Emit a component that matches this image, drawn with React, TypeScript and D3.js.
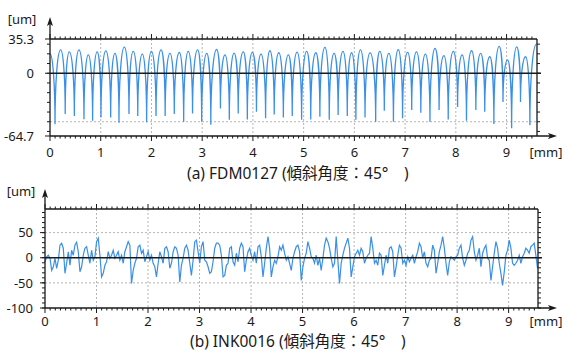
import React from "react";
import * as d3 from "d3";

// x axis (mm)
const xTickLabels = ["0", "1", "2", "3", "4", "5", "6", "7", "8", "9"];

// (a) FDM0127 – turning points of the profile (alternating peak / valley)
const fdmTurnX = [
  0, 0.099, 0.21, 0.3, 0.38, 0.48, 0.57, 0.67, 0.755, 0.84, 0.93, 1.005, 1.1, 1.196, 1.28, 1.36,
  1.465, 1.557, 1.64, 1.73, 1.82, 1.905, 2.0, 2.09, 2.19, 2.27, 2.365, 2.45, 2.55, 2.635, 2.725,
  2.81, 2.91, 2.99, 3.09, 3.17, 3.285, 3.36, 3.45, 3.535, 3.63, 3.71, 3.81, 3.89, 3.99, 4.07, 4.16,
  4.25, 4.335, 4.42, 4.51, 4.6, 4.7, 4.775, 4.87, 4.96, 5.06, 5.14, 5.24, 5.32, 5.42, 5.505, 5.6,
  5.68, 5.775, 5.86, 5.945, 6.03, 6.12, 6.21, 6.31, 6.42, 6.5, 6.59, 6.68, 6.77, 6.865, 6.95, 7.05,
  7.13, 7.225, 7.31, 7.4, 7.49, 7.59, 7.67, 7.765, 7.85, 7.95, 8.035, 8.125, 8.21, 8.31, 8.395,
  8.49, 8.57, 8.67, 8.75, 8.855, 8.93, 9.02, 9.1, 9.2, 9.275, 9.375, 9.46, 9.59,
];
const fdmTurnY = [
  20, -52.7, 24, -42, 22, -44, 24, -47.5, 19, -49, 22, -45.5, 23, -45.5, 20.4, -51, 27, -42, 22.5,
  -44, 19.8, -50.6, 22.5, -44, 24, -44, 20.4, -42, 21.4, -50, 22.5, -41.4, 24, -50, 20.4, -53, 24.5,
  -36.3, 19, -48, 20.8, -41.4, 22.1, -47.6, 21.5, -39.7, 19.8, -46.5, 23.2, -42.5, 21.1, -45.5, 19,
  -44, 21.8, -48, 22.5, -47.6, 21.1, -44.9, 26.6, -48, 20.4, -43.1, 22.5, -44, 21.1, -48, 24, -45.5,
  21, -50, 22.5, -38.7, 20.4, -50, 24.2, -46.5, 21.5, -38, 22.1, -40.7, 19.8, -50, 25.5, -38, 18.1,
  -47.6, 22.5, -34.7, 19, -48.9, 23.2, -38, 20.4, -39.7, 17, -52.4, 27.7, -29.6, 13.7, -56.7, 27.2,
  -29.6, 17, -53.5, 30,
];
const fdmYTicks = [35.3, 0, -64.7];
const fdmGridY = [-50];

// (b) INK0016 – profile sampled every inkStep mm
const inkStep = 0.0323;
const inkValues = [
  -8, 2, 5, -1, -25, -18, -1, -21, -5, 25, 29, 19, -31, -11, 12, -15, 15, 5, 25, 31, 12, -28, -18, 5,
  19, 22, 5, -11, 15, -5, 2, 32, 39, 5, -38, -31, -15, -8, 12, -1, 5, 15, -1, 5, 12, -5, 5, -11, 12,
  22, 32, 25, -51, -25, -11, -1, 22, 25, 9, 15, -8, 2, 12, -5, 5, -11, -18, -38, -11, 12, 2, -11, 19,
  22, 12, -21, -11, 12, 22, 19, 5, -48, -15, -1, 19, 25, 15, -11, -35, -5, 32, 35, 12, -11, 22, 32,
  -5, -8, -18, -31,
  -28, -8, 19, 29, 29, 25, 5, -38, -35, -15, -11, 19, 22, -8, -15, 9, -8, 19, 29, 22, -28, -5, 12,
  19, 5, -5, 12, -11, 22, 25, 2, -38, -11, 19, 42, 19, -38, -18, -5, -11, 2, 22, 15, 25, 9, -5, 2,
  -11, -25, -1, 12, 22, 25, 12, -45, -18, -1, 9, 32, 19, 2, -1, -11, 5, -15, -1, -25, -1, 25, 39,
  32, 19, -1, -18, -11, 42, -5, -51, -11, 5, 19, 29, 39, 19, -38, -18, 2, 9, 15, 5, 19, 12, -11, -1,
  5, 9,
  42, 19, -11, -5, -15, 9, 5, -35, -15, 5, -11, 19, 22, 12, -38, -18, 5, 25, 19, -11, -5, -15, 2,
  -8, -1, 5, -11, 2, 12, 29, 22, -1, 12, -11, -18, -5, -1, 25, 15, -31, -11, 12, 25, 42, 19, -11,
  -35, -8, 2, -1, -5, 2, 5, 19, 25, -1, -15, -5, 9, 15, 35, 42, 12, -5, 5, 19, -18, 9, 19, 25, -1,
  -5, -45, -18, 9, 32, 19, -11, -31, -55, -28, 5, 15, 35, 19, -11, -15, -11, -5, 5, -11, 2, 9, 19,
  15, 9, 22, 25, 29, 5, -21,
];
const inkYTicks = [50, 0, -50, -100];
const inkGridY = [50, -50];

const FONT = "'Noto Sans', 'Noto Sans CJK JP', sans-serif";
const TRACE = "#3a8fe8";
const INK = "#1a1a1a";
const K = 0.5523;

type PanelProps = {
  x: d3.ScaleLinear<number, number>;
  y: d3.ScaleLinear<number, number>;
  xMax: number;
  yTicks: number[];
  gridY: number[];
  arrowTop: number;
  labelRight: number;
  xLabelY: number;
  children?: React.ReactNode;
};

function Panel({ x, y, xMax, yTicks, gridY, arrowTop, labelRight, xLabelY, children }: PanelProps) {
  const [xl, xr] = x.range();
  const [yb, yt] = y.range();
  const [dMin, dMax] = y.domain();
  const minorX = d3.range(0, xMax + 1e-6, 0.1);
  const minorY = d3.range(Math.ceil(dMin / 10) * 10, dMax + 1e-6, 10);
  const arrowEnd = 557;
  return (
    <g>
      {xTickLabels.slice(1).map((t) => (
        <line key={"gx" + t} x1={x(+t)} x2={x(+t)} y1={yt} y2={yb} stroke="#b5b5b5" strokeDasharray="2,2" />
      ))}
      {gridY.map((v) => (
        <line key={"gy" + v} x1={xl} x2={xr} y1={y(v)} y2={y(v)} stroke="#b5b5b5" strokeDasharray="2,2" />
      ))}
      {children}
      <line x1={xl} x2={xr + 4} y1={y(0)} y2={y(0)} stroke={INK} strokeWidth={1.3} />
      {/* frame */}
      <line x1={xl} x2={xr} y1={yt} y2={yt} stroke={INK} strokeWidth={1.3} />
      <line x1={xl} x2={arrowEnd - 4} y1={yb} y2={yb} stroke={INK} strokeWidth={1.3} />
      <line x1={xl} x2={xl} y1={yb} y2={arrowTop + 4} stroke={INK} strokeWidth={1.3} />
      <line x1={xr} x2={xr} y1={yt} y2={yb} stroke={INK} strokeWidth={1.3} />
      <path d={`M${xl},${arrowTop}L${xl - 3},${arrowTop + 9}L${xl},${arrowTop + 7}L${xl + 3},${arrowTop + 9}Z`} fill={INK} />
      <path d={`M${arrowEnd},${yb}L${arrowEnd - 9},${yb - 3}L${arrowEnd - 7},${yb}L${arrowEnd - 9},${yb + 3}Z`} fill={INK} />
      {/* x ticks */}
      {minorX.map((v, i) => {
        const len = i % 10 === 0 ? 5 : 2.5;
        const px = x(v);
        return (
          <g key={"tx" + i}>
            <line x1={px} x2={px} y1={yt} y2={yt - len} stroke={INK} strokeWidth={1} />
            <line x1={px} x2={px} y1={yb} y2={yb + len} stroke={INK} strokeWidth={1} />
          </g>
        );
      })}
      {/* y ticks */}
      {minorY.map((v) => (
        <g key={"ty" + v}>
          <line x1={xl} x2={xl - 3} y1={y(v)} y2={y(v)} stroke={INK} strokeWidth={1} />
          <line x1={xr} x2={xr + 3} y1={y(v)} y2={y(v)} stroke={INK} strokeWidth={1} />
        </g>
      ))}
      {yTicks.map((v) => (
        <g key={"yl" + v}>
          <line x1={xl} x2={xl - 5} y1={y(v)} y2={y(v)} stroke={INK} strokeWidth={1} />
          <text x={labelRight} y={y(v)} dy="0.36em" textAnchor="end" fontSize={13} fill={INK}>
            {String(v)}
          </text>
        </g>
      ))}
      {xTickLabels.map((t) => (
        <text key={"xl" + t} x={x(+t)} y={xLabelY} dy="0.36em" textAnchor="middle" fontSize={13} fill={INK}>
          {t}
        </text>
      ))}
      <text x={546} y={xLabelY} dy="0.36em" textAnchor="middle" fontSize={13} fill={INK}>
        [mm]
      </text>
      <text x={labelRight - 12} y={arrowTop + 2} dy="0.36em" textAnchor="middle" fontSize={13} fill={INK}>
        [um]
      </text>
    </g>
  );
}

export default function App() {
  const xA = d3.scaleLinear().domain([0, 9.6]).range([50, 537]);
  const yA = d3.scaleLinear().domain([-64.7, 35.3]).range([136, 39]);
  const xB = d3.scaleLinear().domain([0, 9.57]).range([45, 538]);
  const yB = d3.scaleLinear().domain([-100, 97]).range([308, 209]);

  // arches: horizontal tangent at peaks, vertical tangent at valley cusps
  const p = d3.path();
  fdmTurnX.forEach((mx, i) => {
    const bx = xA(mx);
    const by = yA(fdmTurnY[i]);
    if (i === 0) {
      p.moveTo(bx, by);
      return;
    }
    const ax = xA(fdmTurnX[i - 1]);
    const ay = yA(fdmTurnY[i - 1]);
    const fromPeak = fdmTurnY[i - 1] > fdmTurnY[i];
    if (fromPeak) p.bezierCurveTo(ax + K * (bx - ax), ay, bx, by + K * (ay - by), bx, by);
    else p.bezierCurveTo(ax, ay + K * (by - ay), bx - K * (bx - ax), by, bx, by);
  });

  const inkLine = d3
    .line<number>()
    .x((_, i) => xB(i * inkStep))
    .y((v) => yB(v));

  return (
    <svg width={562} height={354} style={{ position: "absolute", left: 0, top: 0, background: "#fff" }} fontFamily={FONT}>
      <Panel x={xA} y={yA} xMax={9.5} yTicks={fdmYTicks} gridY={fdmGridY} arrowTop={17} labelRight={34} xLabelY={152.5}>
        <path d={p.toString()} fill="none" stroke={TRACE} strokeWidth={1.3} />
      </Panel>
      <text x={187} y={173} dy="0.36em" fontSize={15.5} fill={INK}>
        (a) FDM0127 (傾斜角度：45°　)
      </text>
      <Panel x={xB} y={yB} xMax={9.5} yTicks={inkYTicks} gridY={inkGridY} arrowTop={189} labelRight={33} xLabelY={321.5}>
        <path d={inkLine(inkValues) ?? ""} fill="none" stroke={TRACE} strokeWidth={1.2} />
      </Panel>
      <text x={190} y={341} dy="0.36em" fontSize={15.5} fill={INK}>
        (b) INK0016 (傾斜角度：45°　)
      </text>
    </svg>
  );
}
